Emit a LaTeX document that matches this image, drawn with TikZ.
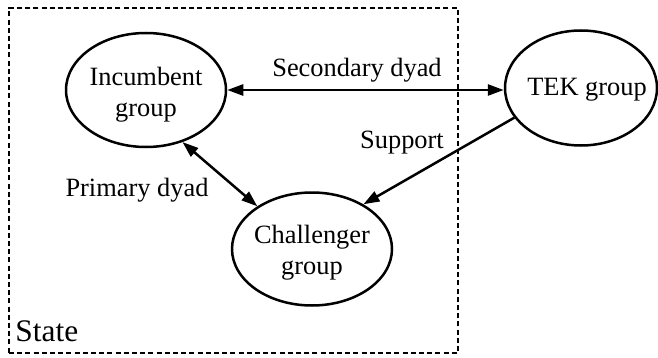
\documentclass[tikz,border=0pt]{standalone}
\usepackage{fontspec}
\setmainfont{Liberation Serif}
\usetikzlibrary{arrows.meta,shapes.geometric}
\begin{document}
\begin{tikzpicture}[x=0.5pt,y=-0.5pt,
  grp/.style={draw,ellipse,line width=1.25pt,inner sep=0pt},
  lbl/.style={font=\fontsize{13.2}{15.5}\selectfont,inner sep=0pt,align=center},
  conn/.style={line width=1.25pt,{Triangle[length=8pt,width=5.5pt]}-{Triangle[length=8pt,width=5.5pt]}},
  oneway/.style={line width=1.25pt,-{Triangle[length=8pt,width=5.5pt]}},
  statebox/.style={draw,line width=1.4pt,dash pattern=on 2.5pt off 1.6pt}]
\useasboundingbox (0,0) rectangle (658,358);
\node[statebox,minimum width=224.5pt,minimum height=172.5pt,inner sep=0pt] (state) at (233.5,180.5) {};
\node[grp,minimum width=80pt,minimum height=57pt] (inc) at (146,90) {};
\node[grp,minimum width=76pt,minimum height=57.5pt] (tek) at (581,88) {};
\node[grp,minimum width=80pt,minimum height=56.5pt] (chal) at (312,249) {};
\node[lbl] (inct) at (146,95) {Incumbent\\group};
\node[lbl] (tekt) at (587,90) {TEK group};
\node[lbl] (chalt) at (312,253) {Challenger\\group};
\draw[conn] (inc.east |- 0,90) -- (tek.west |- 0,90);
\draw[conn] (inc.-55) -- (chal.142);
\draw[oneway] (tek.204) -- (chal.41);
\node[lbl] (sec) at (357,70) {Secondary dyad};
\node[lbl] (sup) at (402,143) {Support};
\node[lbl] (pri) at (137,190) {Primary dyad};
\node[lbl,font=\fontsize{15.7}{18}\selectfont,anchor=west] (st) at (15,331) {State};
\end{tikzpicture}
\end{document}
